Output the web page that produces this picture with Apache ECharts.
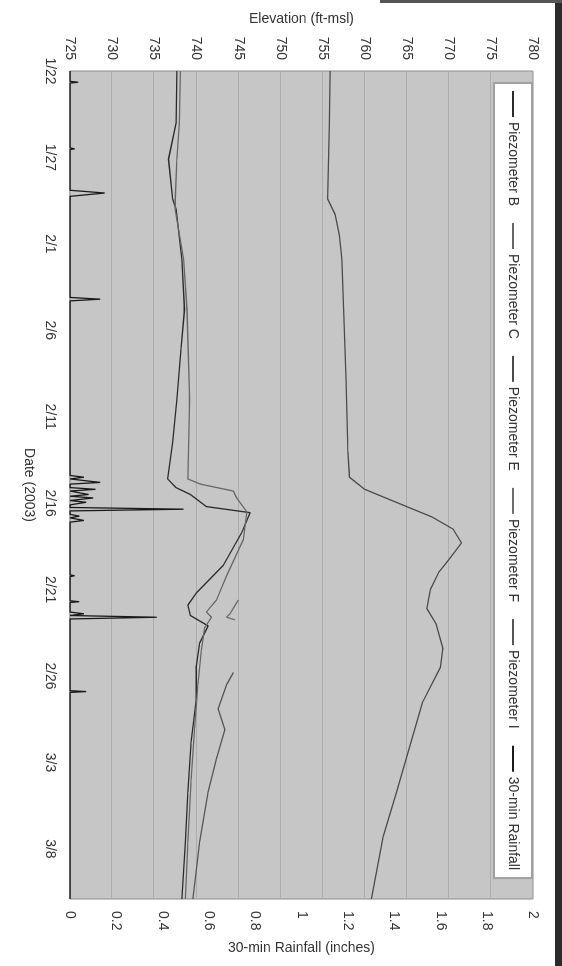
<!DOCTYPE html>
<html><head><meta charset="utf-8">
<script src="https://cdn.jsdelivr.net/npm/echarts@6/dist/echarts.min.js"></script>
<style>
html,body{margin:0;padding:0;background:#fff;width:562px;height:966px;overflow:hidden;}
#chart{position:absolute;left:0;top:0;width:966px;height:562px;transform-origin:0 0;transform:translate(562px,0) rotate(90deg);}
</style></head><body><div id="chart"></div>
<script>
// Date axis: days after 1/22/2003
const dateTickLabels = ['1/22','1/27','2/1','2/6','2/11','2/16','2/21','2/26','3/3','3/8'];
const dateAxisMaxDay = 47.9;

const seriesNames = ['Piezometer B','Piezometer C','Piezometer E','Piezometer F','Piezometer I','30-min Rainfall'];

const pzBDays = [0, 3, 5.1, 7.4, 8, 10.9, 13.8, 16, 19, 21.5, 23.6, 24.1, 24.5, 25.2, 25.55, 26.7, 28.6, 30.2, 30.9, 31.5, 32.1, 33.1, 34.4, 36.3, 38.8, 41.7, 44.6, 47.9];
const pzBElev = [737.7, 737.6, 736.7, 737.2, 737.6, 738.3, 738.6, 738.2, 737.7, 737.2, 736.6, 737.6, 739.3, 741.2, 746.4, 745.4, 743.2, 740.0, 739.0, 739.3, 741.4, 740.4, 740.0, 740.0, 739.4, 739.0, 738.7, 738.3];

const pzCDays = [0, 3, 5.1, 7.4, 8, 10.9, 13.8, 19, 23.6, 23.9, 24.3, 24.7, 25.5, 27.1, 29.2, 30.6, 31.3, 31.6, 32.2, 33.5, 35.5, 38, 41, 44.6, 47.9];
const pzCElev = [738.1, 738.0, 737.7, 737.5, 737.5, 738.5, 738.9, 739.2, 739.0, 740.5, 744.4, 744.8, 746.0, 745.6, 743.6, 742.4, 741.2, 741.8, 741.0, 740.6, 740.2, 739.8, 739.4, 739.0, 738.7];

const pzEDays = [0, 3, 7.4, 8.3, 9.5, 10.9, 13.8, 18, 22, 23.5, 24.2, 25, 25.8, 26.5, 27.3, 28.2, 29, 30, 31.1, 32, 33.4, 34.5, 36.5, 39, 41.7, 44.3, 47.9];
const pzEElev = [755.9, 755.8, 755.6, 756.5, 757.0, 757.3, 757.5, 757.8, 758.0, 758.2, 760, 764, 768, 770.5, 771.5, 770.1, 768.8, 767.8, 767.4, 768.5, 769.3, 769, 766.9, 765.4, 763.8, 762.2, 760.8];

const pzFDays = [30.6, 31.0, 31.4, 31.6, 31.75];
const pzFElev = [745.0, 744.5, 744.0, 743.6, 744.6];

const pzIDays = [34.8, 35.5, 36.9, 38.1, 39.8, 41.7, 44.6, 47.9];
const pzIElev = [744.4, 743.6, 742.6, 743.4, 742.4, 741.4, 740.4, 739.6];

const rainDays = [0, 0.6, 0.65, 0.7, 4.45, 4.5, 4.55, 6.9, 7.06, 7.25, 13.1, 13.2, 13.3,
  23.4, 23.5, 23.6, 23.7, 23.8, 23.9, 24.1, 24.2, 24.3, 24.4, 24.5, 24.6, 24.7, 24.85, 24.95, 25.1,
  25.25, 25.35, 25.45, 25.65, 25.75, 25.85, 25.95, 26.0, 26.1, 29.15, 29.2, 29.25,
  30.65, 30.7, 30.75, 31.3, 31.4, 31.5, 31.6, 31.7, 35.85, 35.9, 35.95, 47.9];
const rainInches = [0, 0, 0.035, 0, 0, 0.02, 0, 0, 0.15, 0, 0, 0.13, 0,
  0, 0.06, 0, 0, 0.13, 0, 0, 0.11, 0, 0, 0.08, 0, 0.1, 0, 0.07, 0,
  0, 0.49, 0, 0, 0.04, 0, 0, 0.06, 0, 0, 0.02, 0,
  0, 0.04, 0, 0, 0.06, 0, 0.375, 0, 0, 0.07, 0, 0];

const FONT = '"Liberation Sans", Arial, sans-serif';
const TXT = '#333';
function pairs(a, b) { return a.map((d, i) => [d, b[i]]); }

const chart = echarts.init(document.getElementById('chart'));
const pzSeries = [
  [pzBDays, pzBElev, '#2a2a2a'],
  [pzCDays, pzCElev, '#666666'],
  [pzEDays, pzEElev, '#4a4a4a'],
  [pzFDays, pzFElev, '#6e6e6e'],
  [pzIDays, pzIElev, '#555555']
].map((s, i) => ({
  name: seriesNames[i], type: 'line', xAxisIndex: 0, yAxisIndex: 0,
  data: pairs(s[0], s[1]), symbol: 'none', smooth: false,
  lineStyle: { color: s[2], width: 1.3 }, itemStyle: { color: s[2] }
}));

chart.setOption({
  animation: false,
  backgroundColor: '#ffffff',
  textStyle: { fontFamily: FONT },
  graphic: [
    { type: 'rect', shape: { x: 0, y: 0, width: 966, height: 7 }, style: { fill: '#2b2b2b' }, z: 100 },
    { type: 'rect', shape: { x: 0, y: 0, width: 3, height: 182 }, style: { fill: '#555' }, z: 100 }
  ],
  grid: { left: 71, right: 67, top: 29, bottom: 70, show: true, backgroundColor: '#c6c6c6', borderColor: '#8a8a8a', borderWidth: 1 },
  legend: {
    data: seriesNames, left: 83, top: 30, orient: 'horizontal',
    icon: 'rect', itemGap: 17, itemWidth: 26, itemHeight: 2,
    padding: [12, 8, 12, 8],
    backgroundColor: '#ffffff', borderColor: '#a0a0a0', borderWidth: 2,
    textStyle: { fontSize: 14, color: TXT, fontFamily: FONT }
  },
  xAxis: [{
    type: 'value', min: 0, max: dateAxisMaxDay, interval: 5,
    name: 'Date (2003)', nameLocation: 'middle', nameGap: 34,
    nameTextStyle: { fontSize: 14, color: TXT, fontFamily: FONT },
    axisLine: { show: false }, axisTick: { show: false }, splitLine: { show: false },
    axisLabel: {
      margin: 13, fontSize: 14, color: TXT, fontFamily: FONT,
      formatter: function (v) {
        const i = Math.round(v / 5);
        return (Math.abs(v - i * 5) < 1e-6 && i < dateTickLabels.length) ? dateTickLabels[i] : '';
      }
    }
  }],
  yAxis: [{
    type: 'value', min: 725, max: 780, interval: 5, position: 'left',
    name: 'Elevation (ft-msl)', nameLocation: 'middle', nameGap: 41, nameRotate: 90,
    nameTextStyle: { fontSize: 14, color: TXT, fontFamily: FONT },
    axisLine: { show: false }, axisTick: { show: false },
    splitLine: { show: true, lineStyle: { color: '#adadad', width: 1 } },
    axisLabel: { margin: 11, fontSize: 14, color: TXT, fontFamily: FONT }
  }, {
    type: 'value', min: 0, max: 2, interval: 0.2, position: 'right',
    name: '30-min Rainfall (inches)', nameLocation: 'middle', nameGap: 37, nameRotate: 90,
    nameTextStyle: { fontSize: 14, color: TXT, fontFamily: FONT },
    axisLine: { show: false }, axisTick: { show: false }, splitLine: { show: false },
    axisLabel: { margin: 12, fontSize: 14, color: TXT, fontFamily: FONT }
  }],
  series: pzSeries.concat([{
    name: seriesNames[5], type: 'line', xAxisIndex: 0, yAxisIndex: 1,
    data: pairs(rainDays, rainInches), symbol: 'none',
    lineStyle: { color: '#1a1a1a', width: 1.3 }, itemStyle: { color: '#1a1a1a' }
  }])
});
</script></body></html>
